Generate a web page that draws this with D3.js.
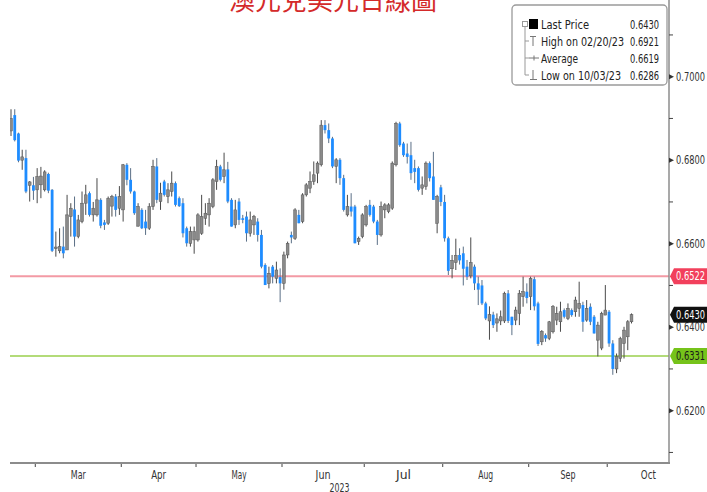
<!DOCTYPE html>
<html>
<head>
<meta charset="utf-8">
<script src="https://cdn.jsdelivr.net/npm/d3@7"></script>
<style>
body { margin: 0; background: #fff; }
text { font-family: "DejaVu Sans", sans-serif; }
</style>
</head>
<body>
<div id="chart"></div>
<script>
// daily AUD/USD candles, 2023-02-20 .. 2023-10-10 (weekdays)
const opens = [0.6870,0.6908,0.6864,0.6800,0.6805,0.6740,0.6740,0.6729,0.6741,0.6729,0.6767,0.6729,0.6588,0.6583,0.6593,0.6585,0.6665,0.6682,0.6617,0.6653,
  0.6697,0.6721,0.6669,0.6669,0.6705,0.6651,0.6649,0.6690,0.6713,0.6685,0.6681,0.6789,0.6753,0.6725,0.6642,0.6681,0.6653,0.6637,0.6689,0.6785,
  0.6701,0.6749,0.6713,0.6725,0.6745,0.6709,0.6697,0.6637,0.6601,0.6609,0.6609,0.6625,0.6661,0.6669,0.6689,0.6749,0.6785,0.6761,0.6778,0.6705,
  0.6645,0.6701,0.6661,0.6665,0.6625,0.6645,0.6653,0.6621,0.6549,0.6505,0.6545,0.6517,0.6520,0.6505,0.6573,0.6621,0.6613,0.6669,0.6653,0.6717,
  0.6733,0.6749,0.6769,0.6789,0.6884,0.6872,0.6852,0.6785,0.6801,0.6757,0.6669,0.6689,0.6689,0.6605,0.6617,0.6645,0.6693,0.6689,0.6653,0.6621,
  0.6681,0.6677,0.6685,0.6789,0.6888,0.6840,0.6816,0.6812,0.6781,0.6781,0.6733,0.6737,0.6793,0.6761,0.6649,0.6735,0.6700,0.6613,0.6540,0.6555,
  0.6573,0.6577,0.6545,0.6523,0.6545,0.6505,0.6500,0.6457,0.6415,0.6430,0.6410,0.6415,0.6415,0.6481,0.6425,0.6417,0.6433,0.6473,0.6485,0.6473,
  0.6515,0.6457,0.6365,0.6381,0.6373,0.6389,0.6417,0.6413,0.6441,0.6421,0.6441,0.6437,0.6445,0.6453,0.6417,0.6449,0.6425,0.6369,0.6350,0.6429,
  0.6437,0.6361,0.6300,0.6325,0.6361,0.6377,0.6413];
const highs = [0.6922,0.6922,0.6866,0.6825,0.6825,0.6750,0.6760,0.6781,0.6784,0.6776,0.6770,0.6731,0.6629,0.6637,0.6641,0.6717,0.6697,0.6713,0.6669,0.6725,
  0.6741,0.6725,0.6700,0.6757,0.6709,0.6657,0.6713,0.6717,0.6719,0.6738,0.6791,0.6793,0.6781,0.6727,0.6697,0.6685,0.6681,0.6697,0.6801,0.6805,
  0.6746,0.6753,0.6745,0.6773,0.6749,0.6713,0.6709,0.6641,0.6641,0.6641,0.6673,0.6717,0.6697,0.6709,0.6757,0.6801,0.6789,0.6818,0.6796,0.6709,
  0.6705,0.6709,0.6669,0.6677,0.6677,0.6669,0.6661,0.6633,0.6553,0.6545,0.6549,0.6557,0.6541,0.6581,0.6605,0.6629,0.6685,0.6681,0.6721,0.6745,
  0.6773,0.6797,0.6797,0.6896,0.6896,0.6888,0.6856,0.6805,0.6805,0.6765,0.6717,0.6721,0.6693,0.6617,0.6673,0.6693,0.6705,0.6693,0.6657,0.6701,
  0.6697,0.6697,0.6797,0.6892,0.6892,0.6844,0.6840,0.6844,0.6801,0.6785,0.6761,0.6797,0.6797,0.6820,0.6717,0.6741,0.6717,0.6617,0.6573,0.6612,
  0.6589,0.6593,0.6561,0.6615,0.6550,0.6521,0.6513,0.6461,0.6450,0.6437,0.6433,0.6440,0.6485,0.6489,0.6425,0.6449,0.6489,0.6521,0.6505,0.6521,
  0.6521,0.6461,0.6393,0.6385,0.6415,0.6453,0.6449,0.6461,0.6445,0.6457,0.6445,0.6473,0.6509,0.6461,0.6465,0.6457,0.6429,0.6413,0.6437,0.6501,
  0.6441,0.6369,0.6337,0.6377,0.6401,0.6417,0.6433];
const lows = [0.6858,0.6845,0.6795,0.6777,0.6721,0.6701,0.6705,0.6697,0.6709,0.6725,0.6721,0.6580,0.6569,0.6577,0.6565,0.6585,0.6617,0.6593,0.6613,0.6649,
  0.6669,0.6665,0.6653,0.6665,0.6637,0.6633,0.6645,0.6665,0.6665,0.6669,0.6653,0.6740,0.6720,0.6669,0.6641,0.6635,0.6621,0.6633,0.6681,0.6697,
  0.6681,0.6713,0.6697,0.6713,0.6689,0.6688,0.6615,0.6593,0.6593,0.6576,0.6605,0.6621,0.6645,0.6641,0.6685,0.6729,0.6749,0.6745,0.6697,0.6641,
  0.6637,0.6645,0.6649,0.6605,0.6617,0.6621,0.6605,0.6541,0.6501,0.6493,0.6505,0.6505,0.6460,0.6490,0.6565,0.6601,0.6609,0.6649,0.6649,0.6713,
  0.6721,0.6741,0.6745,0.6785,0.6864,0.6841,0.6781,0.6745,0.6741,0.6677,0.6665,0.6665,0.6601,0.6597,0.6613,0.6641,0.6665,0.6649,0.6597,0.6617,
  0.6661,0.6673,0.6681,0.6785,0.6832,0.6808,0.6792,0.6753,0.6745,0.6725,0.6717,0.6729,0.6749,0.6705,0.6625,0.6690,0.6605,0.6525,0.6517,0.6537,
  0.6550,0.6500,0.6513,0.6517,0.6489,0.6453,0.6453,0.6417,0.6370,0.6398,0.6389,0.6405,0.6410,0.6410,0.6381,0.6405,0.6405,0.6449,0.6457,0.6441,
  0.6440,0.6355,0.6357,0.6365,0.6369,0.6385,0.6405,0.6389,0.6421,0.6417,0.6425,0.6425,0.6425,0.6389,0.6413,0.6405,0.6385,0.6330,0.6345,0.6429,
  0.6353,0.6286,0.6290,0.6317,0.6325,0.6345,0.6409];
const closes = [0.6900,0.6848,0.6799,0.6808,0.6725,0.6748,0.6727,0.6761,0.6762,0.6772,0.6727,0.6583,0.6592,0.6593,0.6577,0.6669,0.6685,0.6617,0.6657,0.6697,
  0.6717,0.6669,0.6685,0.6705,0.6643,0.6645,0.6709,0.6713,0.6681,0.6713,0.6789,0.6753,0.6725,0.6673,0.6689,0.6637,0.6637,0.6689,0.6785,0.6705,
  0.6721,0.6717,0.6729,0.6745,0.6693,0.6690,0.6625,0.6601,0.6629,0.6629,0.6669,0.6665,0.6673,0.6697,0.6753,0.6785,0.6753,0.6777,0.6701,0.6641,
  0.6681,0.6657,0.6657,0.6625,0.6657,0.6665,0.6621,0.6545,0.6501,0.6529,0.6521,0.6537,0.6505,0.6573,0.6601,0.6615,0.6681,0.6649,0.6717,0.6741,
  0.6749,0.6765,0.6793,0.6884,0.6872,0.6852,0.6785,0.6801,0.6757,0.6681,0.6689,0.6677,0.6601,0.6613,0.6669,0.6689,0.6669,0.6653,0.6621,0.6689,
  0.6693,0.6693,0.6793,0.6888,0.6836,0.6812,0.6808,0.6769,0.6772,0.6729,0.6741,0.6793,0.6757,0.6705,0.6713,0.6700,0.6613,0.6535,0.6560,0.6572,
  0.6560,0.6540,0.6521,0.6555,0.6505,0.6490,0.6457,0.6421,0.6430,0.6405,0.6420,0.6425,0.6481,0.6415,0.6405,0.6441,0.6481,0.6485,0.6470,0.6517,
  0.6450,0.6360,0.6390,0.6373,0.6413,0.6449,0.6433,0.6437,0.6425,0.6445,0.6429,0.6465,0.6457,0.6413,0.6445,0.6413,0.6385,0.6405,0.6433,0.6441,
  0.6361,0.6300,0.6330,0.6373,0.6393,0.6413,0.6430];

const yTicks = [0.62, 0.64, 0.66, 0.68, 0.70];
const yMinor = [0.61, 0.63, 0.65, 0.67, 0.69, 0.71];
const monthLabels = ["Mar", "Apr", "May", "Jun", "Jul", "Aug", "Sep", "Oct"];
const yearLabel = "2023";
const resistance = 0.6522;
const support = 0.6331;
const lastPrice = 0.6430;
const legendNames = ["Last Price", "High on 02/20/23", "Average", "Low on 10/03/23"];
const legendValues = ["0.6430", "0.6921", "0.6619", "0.6286"];
const title = "澳元兌美元日線圖";

const W = 707, H = 492;
const plotLeft = 10, plotRight = 669, plotTop = 0, plotBottom = 463;

const days = d3.timeDay.range(new Date(2023, 1, 20), new Date(2023, 9, 11))
  .filter(d => d.getDay() % 6 !== 0);

const svg = d3.select("#chart").append("svg")
  .attr("width", W)
  .attr("height", H);

const x = d3.scalePoint()
  .domain(d3.range(days.length))
  .range([11, 631.5]);
const step = x.step();

const y = d3.scaleLinear()
  .domain([0.62, 0.70])
  .range([410.7, 76.7]);

// narrow text helper (the original uses a condensed font)
function narrow(sel, w) {
  return sel.attr("textLength", w).attr("lengthAdjust", "spacingAndGlyphs");
}

svg.append("clipPath").attr("id", "plot")
  .append("rect")
  .attr("x", plotLeft).attr("y", plotTop)
  .attr("width", plotRight - plotLeft).attr("height", plotBottom - plotTop);

// title (cut off at the top)
svg.append("text")
  .attr("x", 333).attr("y", 10)
  .attr("text-anchor", "middle")
  .style("font-family", "'Noto Sans CJK TC', sans-serif")
  .style("font-size", "26px")
  .attr("fill", "#d42a2a")
  .text(title);

const plot = svg.append("g").attr("clip-path", "url(#plot)");

// level lines
plot.append("line")
  .attr("x1", plotLeft).attr("x2", plotRight)
  .attr("y1", y(resistance)).attr("y2", y(resistance))
  .attr("stroke", "#f39aa5").attr("stroke-width", 2);
plot.append("line")
  .attr("x1", plotLeft).attr("x2", plotRight)
  .attr("y1", y(support)).attr("y2", y(support))
  .attr("stroke", "#b3db79").attr("stroke-width", 2);

// candles
const candles = plot.selectAll(".candle")
  .data(d3.range(days.length))
  .enter().append("g")
  .attr("class", "candle");

candles.append("line")
  .attr("x1", i => x(i)).attr("x2", i => x(i))
  .attr("y1", i => y(highs[i])).attr("y2", i => y(lows[i]))
  .attr("stroke", i => closes[i] >= opens[i] ? "#4a4a4a" : "#5a6f86")
  .attr("stroke-width", 1);

candles.append("rect")
  .attr("x", i => x(i) - 1.4)
  .attr("width", 2.8)
  .attr("y", i => y(Math.max(opens[i], closes[i])))
  .attr("height", i => Math.max(1, Math.abs(y(opens[i]) - y(closes[i]))))
  .attr("fill", i => closes[i] >= opens[i] ? "#8a8a8a" : "#1e8cff")
  .attr("stroke", i => closes[i] >= opens[i] ? "#555" : "none")
  .attr("stroke-width", 0.5);

// axes lines
svg.append("line")
  .attr("x1", plotLeft).attr("x2", plotRight + 1)
  .attr("y1", plotBottom).attr("y2", plotBottom)
  .attr("stroke", "#8c8c8c").attr("stroke-width", 2);
svg.append("line")
  .attr("x1", plotRight).attr("x2", plotRight)
  .attr("y1", 0).attr("y2", plotBottom)
  .attr("stroke", "#8c8c8c").attr("stroke-width", 1.5);

// month ticks and labels
monthLabels.forEach((m, k) => {
  const month = k + 2;
  const first = days.findIndex(d => d.getMonth() === month);
  const bx = x(first) - step / 2;
  const n = d3.timeDay.range(new Date(2023, month, 1), new Date(2023, month + 1, 1))
    .filter(d => d.getDay() % 6 !== 0).length;
  svg.append("line")
    .attr("x1", bx).attr("x2", bx)
    .attr("y1", plotBottom + 1).attr("y2", plotBottom + 4)
    .attr("stroke", "#444");
  svg.append("text")
    .attr("x", bx + n * step / 2).attr("y", 479)
    .attr("text-anchor", "middle")
    .style("font-size", "11.5px")
    .attr("fill", "#333")
    .call(narrow, 15)
    .text(m);
});
svg.append("text")
  .attr("x", (plotLeft + plotRight) / 2).attr("y", 492)
  .attr("text-anchor", "middle")
  .style("font-size", "11.5px")
  .attr("fill", "#333")
  .call(narrow, 20)
  .text(yearLabel);

// right axis
const yAxis = svg.append("g");
yAxis.selectAll(".maj")
  .data(yTicks)
  .enter().append("path")
  .attr("d", v => `M${plotRight},${y(v) - 2.5}L${plotRight + 5},${y(v)}L${plotRight},${y(v) + 2.5}Z`)
  .attr("fill", "#333");
yAxis.selectAll(".minor")
  .data(yMinor.filter(v => y(v) > 0))
  .enter().append("line")
  .attr("x1", plotRight).attr("x2", plotRight + 4)
  .attr("y1", v => y(v)).attr("y2", v => y(v))
  .attr("stroke", "#444");
yAxis.selectAll(".lbl")
  .data(yTicks)
  .enter().append("text")
  .attr("x", 676)
  .attr("y", v => y(v) + 4)
  .style("font-size", "11.5px")
  .attr("fill", "#333")
  .call(narrow, 29)
  .text(v => v.toFixed(4));

// price tags
const tags = [
  { v: resistance, fill: "#f2405c", color: "#fff" },
  { v: lastPrice, fill: "#111", color: "#fff" },
  { v: support, fill: "#76c31a", color: "#1a1a1a" }
];
tags.forEach(t => {
  const ty = y(t.v);
  svg.append("path")
    .attr("d", `M${plotRight + 1},${ty}L${plotRight + 5},${ty - 8}L${W},${ty - 8}L${W},${ty + 8}L${plotRight + 5},${ty + 8}Z`)
    .attr("fill", t.fill);
  svg.append("text")
    .attr("x", 676).attr("y", ty + 4)
    .style("font-size", "11.5px")
    .attr("fill", t.color)
    .call(narrow, 29)
    .text(t.v.toFixed(4));
});

// legend box
const lg = svg.append("g");
lg.append("rect")
  .attr("x", 512).attr("y", 5)
  .attr("width", 155).attr("height", 80)
  .attr("rx", 4)
  .attr("fill", "#fff")
  .attr("stroke", "#9a9a9a").attr("stroke-width", 1.3);

const rowY = [24, 41, 58, 75];
lg.append("line")
  .attr("x1", 525).attr("x2", 525)
  .attr("y1", 26).attr("y2", rowY[3])
  .attr("stroke", "#999");
rowY.slice(1).forEach(ry => {
  lg.append("line").attr("x1", 525).attr("x2", 529)
    .attr("y1", ry).attr("y2", ry).attr("stroke", "#999");
});
lg.append("rect")
  .attr("x", 522.5).attr("y", 21.5).attr("width", 5).attr("height", 5)
  .attr("fill", "#fff").attr("stroke", "#999");
lg.append("rect")
  .attr("x", 529).attr("y", 19).attr("width", 9).attr("height", 10)
  .attr("fill", "#000");
// high icon
lg.append("path").attr("d", "M530,36.5H536M533,36.5V46")
  .attr("stroke", "#777").attr("fill", "none");
// average icon
lg.append("path").attr("d", "M529,58H539M534,55.5V60.5")
  .attr("stroke", "#777").attr("fill", "none");
// low icon
lg.append("path").attr("d", "M533,70V79.5M530,79.5H537")
  .attr("stroke", "#777").attr("fill", "none");

const nameWidths = [48, 83, 37, 80];
legendNames.forEach((name, k) => {
  lg.append("text")
    .attr("x", 541).attr("y", rowY[k] + 4.5)
    .style("font-size", "12.5px")
    .attr("fill", "#222")
    .call(narrow, nameWidths[k])
    .text(name);
  lg.append("text")
    .attr("x", 630).attr("y", rowY[k] + 4.5)
    .style("font-size", "12.5px")
    .attr("fill", "#222")
    .call(narrow, 29)
    .text(legendValues[k]);
});
</script>
</body>
</html>
